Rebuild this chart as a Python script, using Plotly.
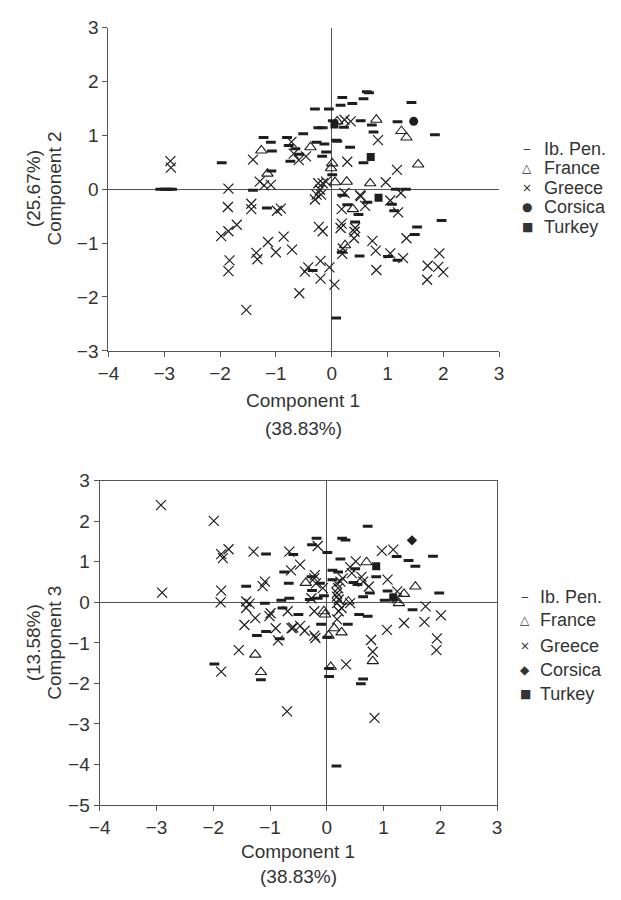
import plotly.graph_objects as go

# ---- Component 1 vs Component 2 (upper panel) ----
ib_x12 = [-1.97, -3.07, -2.99, -2.92, -2.86, -1.22, -1.09, -1.07, -0.80, -0.77, -0.74, -1.08, -1.41, -1.16,
          0.63, 0.67, 0.19, 0.57, 0.37, 0.16, 1.43, -0.30, -0.05, 0.02, -0.24, -0.16, 0.22, 0.52, 0.72, 1.18,
          1.85, 0.75, -0.51, 0.08, 0.10, -0.27, -0.13, 0.33, -0.65, -0.10, -0.58, -0.17, 0.57, 0.01, 1.15,
          1.33, 0.19, 0.64, 1.08, 1.12, 0.28, 0.48, 1.97, 0.42, 1.53, 1.49, 0.18, 0.50, 1.01, 1.18, -0.34, 0.08]
ib_y12 = [0.49, 0.00, 0.00, 0.00, 0.00, 0.96, 0.87, 0.71, 0.96, 0.81, 0.52, 0.34, -0.02, -0.35,
          1.81, 1.79, 1.70, 1.68, 1.59, 1.56, 1.61, 1.49, 1.49, 1.27, 1.14, 1.14, 1.15, 1.27, 1.19, 1.25,
          1.01, 1.06, 1.03, 0.91, 0.89, 0.87, 0.84, 0.78, 0.75, 0.69, 0.65, 0.61, 0.49, 0.27, 0.00,
          0.00, -0.11, -0.24, -0.28, -0.40, -0.29, -0.47, -0.58, -0.61, -0.70, -0.84, -1.17, -1.24, -1.25, -1.32, -1.51, -2.39]

fr_x12 = [-1.26, -1.15, 0.10, 0.80, 1.25, 1.34, -0.38, 0.01, -0.01, 1.55, 0.27, 0.69, 0.06, 0.38, 0.24]
fr_y12 = [0.72, 0.29, 1.26, 1.29, 1.08, 0.96, 0.78, 0.48, 0.39, 0.46, 0.14, 0.11, 0.13, -0.37, -1.04]

gr_x12 = [-2.89, -2.88, -1.85, -1.41, -0.72, -0.68, -1.29, -1.21, -1.09, -1.86, -1.44, -1.44, -0.98, -0.91,
          -1.70, -1.85, -1.98, -0.86, -1.14, -1.00, -0.71, -1.35, -1.33, -1.83, -1.85, -1.53,
          0.23, 0.34, 0.83, -0.46, -0.59, 0.28, 1.17, 0.97, -0.24, -0.16, -0.10, 1.24, 0.51, 0.23, 1.05,
          -0.21, -0.27, -0.30, -0.19, 0.52, 0.60, 1.19, 0.18, -0.23, -0.16, 0.18, 0.16, 0.42, 0.41,
          1.34, 0.40, 0.73, 0.79, 0.20, 0.19, 1.05, 1.28, 1.93, 1.72, 1.91, 2.00, 1.71, 0.80,
          -0.20, -0.42, -0.48, -0.04, -0.20, 0.05, -0.58]
gr_y12 = [0.52, 0.40, 0.01, 0.55, 0.88, 0.66, 0.14, 0.07, 0.08, -0.33, -0.27, -0.37, -0.40, -0.36,
          -0.66, -0.78, -0.87, -0.88, -0.98, -1.17, -1.12, -1.18, -1.30, -1.32, -1.52, -2.24,
          1.29, 1.26, 0.91, 0.61, 0.54, 0.51, 0.36, 0.13, 0.11, 0.11, 0.14, -0.07, -0.11, -0.07, -0.21,
          -0.01, -0.10, -0.19, -0.10, -0.13, -0.31, -0.43, -0.37, -0.70, -0.78, -0.64, -0.72, -0.72, -0.79,
          -0.91, -0.91, -0.96, -1.14, -1.10, -1.20, -1.19, -1.28, -1.19, -1.42, -1.44, -1.54, -1.68, -1.50,
          -1.33, -1.45, -1.53, -1.45, -1.66, -1.77, -1.93]

co_x12 = [1.47]
co_y12 = [1.26]

tu_x12 = [0.05, 0.70, 0.84]
tu_y12 = [1.20, 0.60, -0.16]

# ---- Component 1 vs Component 3 (lower panel) ----
ib_x13 = [-1.07, -0.75, -1.42, -0.67, -1.09, -0.80, -0.66, -0.78, -1.23, -1.07, -0.83, -1.98, -1.16,
          0.72, -0.18, 0.27, 0.33, -0.26, 0.01, 1.23, 1.87, -0.59, 0.24, 1.44, 1.56, 0.10, 0.20, 0.50,
          -0.27, 0.87, 0.47, 0.54, -0.12, 0.10, -0.26, 1.98, 1.07, 0.76, -0.30, -0.16, -0.05, 0.64, 1.02,
          -0.50, 0.57, 0.72, 1.51, -0.10, 0.37, 0.01, 0.04, 0.04, 0.64, 0.60, 0.17]
ib_y13 = [1.19, 0.75, 0.40, 0.47, -0.02, 0.05, 0.10, -0.14, -0.82, -0.72, -0.90, -1.52, -1.91,
          1.88, 1.58, 1.58, 1.54, 1.42, 1.23, 1.13, 1.14, 1.18, 1.07, 1.03, 0.89, 0.79, 0.75, 0.83,
          0.63, 0.63, 0.49, 0.44, 0.47, 0.56, 0.29, 0.23, 0.28, 0.23, 0.07, 0.10, 0.16, 0.14, 0.05,
          -0.30, -0.30, -0.34, -0.18, -0.54, -0.54, -0.86, -1.63, -1.83, -1.89, -2.01, -4.04]

fr_x13 = [-1.26, -1.16, 0.70, -0.37, 1.56, 1.36, 1.27, 0.38, -0.05, -0.03, 0.13, 0.26, 0.03, 0.81, 0.07]
fr_y13 = [-1.29, -1.72, 0.99, 0.48, 0.39, 0.21, -0.02, 0.02, -0.22, -0.30, -0.64, -0.74, -0.82, -1.45, -1.59]

gr_x13 = [-2.92, -1.99, -1.86, -1.73, -1.83, -1.29, -0.66, -0.63, -1.13, -1.09, -2.90, -1.86, -1.87,
          -1.42, -1.36, -1.42, -0.69, -0.99, -1.01, -1.26, -1.45, -0.90, -0.62, -0.86, -1.55, -1.86, -0.70,
          -0.16, 0.97, 1.17, 0.51, -0.47, 0.41, 0.44, 0.28, 0.24, -0.21, -0.22, 0.61, 1.07, 0.64, 0.74,
          -0.19, -0.07, 0.17, 0.20, 0.18, 1.24, -0.27, 0.18, 0.21, 0.18, 0.41, 1.23, -0.22, 0.26, 0.21,
          1.74, 2.01, 1.72, 1.36, 1.06, 0.18, -0.59, -0.47, -0.39, -0.22, -0.20, 0.78, 0.81, 1.94, 1.93,
          0.34, 0.84]
gr_y13 = [2.40, 2.01, 1.19, 1.31, 1.09, 1.25, 1.25, 0.79, 0.40, 0.51, 0.24, 0.29, 0.00,
          0.02, -0.03, -0.14, -0.22, -0.27, -0.34, -0.39, -0.56, -0.64, -0.64, -0.94, -1.18, -1.71, -2.69,
          1.39, 1.27, 1.30, 1.01, 0.93, 0.87, 0.72, 0.59, 0.51, 0.67, 0.59, 0.63, 0.56, 0.51, 0.39,
          0.47, 0.35, 0.47, 0.35, 0.23, 0.27, 0.10, 0.14, 0.07, -0.02, -0.02, 0.10, -0.22, -0.14, -0.22,
          -0.10, -0.32, -0.48, -0.51, -0.68, -0.42, -0.62, -0.58, -0.70, -0.82, -0.88, -0.93, -1.22, -0.89, -1.18,
          -1.53, -2.85]

co_x13 = [1.50]
co_y13 = [1.53]

tu_x13 = [0.87, 1.17]
tu_y13 = [0.89, 0.12]

# legend entries: (label, key glyph) for each panel
groups = ["Ib. Pen.", "France", "Greece", "Corsica", "Turkey"]
keys_top = ["\u2012", "\u25b3", "\u00d7", "\u25cf", "\u25a0"]
keys_bottom = ["\u2012", "\u25b3", "\u00d7", "\u25c6", "\u25a0"]

INK = "#1e1e1e"
TXT = "#333333"
AX = "#555555"
FONT = "Arial, 'Liberation Sans', sans-serif"

styles = {
    "Ib. Pen.": dict(symbol="line-ew-open", size=7, color=INK, line=dict(width=3, color=INK)),
    "France": dict(symbol="triangle-up-open", size=10, color=INK, line=dict(width=1.1, color=INK)),
    "Greece": dict(symbol="x-thin-open", size=10, color=INK, line=dict(width=1.2, color=INK)),
    "Turkey": dict(symbol="square", size=8, color=INK, line=dict(width=0)),
}
corsica_top = dict(symbol="circle", size=9, color=INK, line=dict(width=0))
corsica_bot = dict(symbol="diamond", size=8, color=INK, line=dict(width=0))

fig = go.Figure()

panels = [
    ("x", "y",
     [("Ib. Pen.", ib_x12, ib_y12, styles["Ib. Pen."]),
      ("France", fr_x12, fr_y12, styles["France"]),
      ("Greece", gr_x12, gr_y12, styles["Greece"]),
      ("Corsica", co_x12, co_y12, corsica_top),
      ("Turkey", tu_x12, tu_y12, styles["Turkey"])]),
    ("x2", "y2",
     [("Ib. Pen.", ib_x13, ib_y13, styles["Ib. Pen."]),
      ("France", fr_x13, fr_y13, styles["France"]),
      ("Greece", gr_x13, gr_y13, styles["Greece"]),
      ("Corsica", co_x13, co_y13, corsica_bot),
      ("Turkey", tu_x13, tu_y13, styles["Turkey"])]),
]

for xa, ya, series in panels:
    for name, xs, ys, mk in series:
        fig.add_trace(go.Scatter(x=xs, y=ys, mode="markers", name=name, marker=mk,
                                 xaxis=xa, yaxis=ya, showlegend=False, hoverinfo="x+y+name"))

W, H = 621, 900


def px_x(p):
    return p / W


def px_y(p):
    return 1 - p / H


tick_font = dict(family=FONT, size=19, color=TXT)
axis_common = dict(showgrid=False, zeroline=True, zerolinecolor=AX, zerolinewidth=1.2,
                   showline=True, linecolor=AX, linewidth=1.2, ticks="outside", ticklen=5,
                   tickcolor=AX, tickwidth=1, dtick=1, tickfont=tick_font, fixedrange=True)

fig.update_layout(
    width=W, height=H,
    margin=dict(l=0, r=0, t=0, b=0),
    paper_bgcolor="white", plot_bgcolor="white",
    font=dict(family=FONT, size=19, color=TXT),
    xaxis=dict(axis_common, range=[-4, 3], domain=[px_x(100), px_x(501)], anchor="y"),
    yaxis=dict(axis_common, range=[-3, 3], domain=[px_y(349), px_y(18)], anchor="x"),
    xaxis2=dict(axis_common, range=[-4, 3], domain=[px_x(91), px_x(499)], anchor="y2", mirror=True),
    yaxis2=dict(axis_common, range=[-5, 3], domain=[px_y(814), px_y(482)], anchor="x2", mirror=True),
    showlegend=False,
)


def label(text, xp, yp, angle=0, xanchor="center", size=19, family=FONT):
    return dict(text=text, x=px_x(xp), y=px_y(yp), xref="paper", yref="paper",
                xanchor=xanchor, yanchor="middle", textangle=angle, showarrow=False,
                font=dict(family=family, size=size, color=TXT))


annotations = [
    # upper panel axis titles
    label("Component 1", 300, 400),
    label("(38.83%)", 300, 428),
    label("(25.67%)", 23, 183, angle=-90),
    label("Component 2", 45, 183, angle=-90),
    # lower panel axis titles
    label("Component 1", 295, 862),
    label("(38.83%)", 295, 887),
    label("(13.58%)", 23, 648, angle=-90),
    label("Component 3", 45, 648, angle=-90),
]

# legend rows drawn beside each panel
top_rows = [142, 162, 182, 202, 222]
bottom_rows = [601, 625, 651, 676, 700]
for name, key, yp in zip(groups, keys_top, top_rows):
    annotations.append(label(key, 530, yp, size=12, family="DejaVu Sans"))
    annotations.append(label(name, 545, yp, xanchor="left", size=18))
for name, key, yp in zip(groups, keys_bottom, bottom_rows):
    annotations.append(label(key, 528, yp, size=12, family="DejaVu Sans"))
    annotations.append(label(name, 541, yp, xanchor="left", size=18))

fig.update_layout(annotations=annotations)

fig.write_html("out.html")
